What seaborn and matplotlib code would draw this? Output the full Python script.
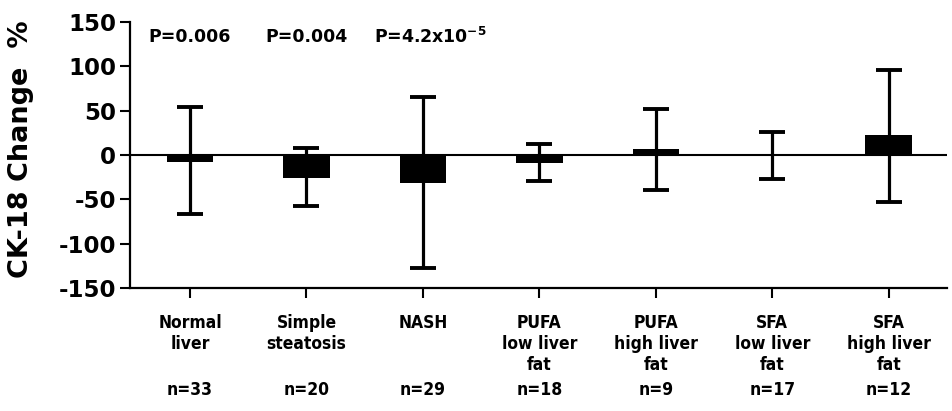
import matplotlib
matplotlib.use("Agg")
import matplotlib.pyplot as plt
import matplotlib.transforms as mtransforms
import seaborn as sns
import numpy as np
import pandas as pd

categories = ["Normal\nliver", "Simple\nsteatosis", "NASH", "PUFA\nlow liver\nfat",
              "PUFA\nhigh liver\nfat", "SFA\nlow liver\nfat", "SFA\nhigh liver\nfat"]
means = [-8, -26, -32, -9, 7, 0, 23]
err_upper = [54, 8, 65, 12, 52, 26, 96]
err_lower = [-67, -58, -127, -29, -40, -27, -53]
n_labels = ["n=33", "n=20", "n=29", "n=18", "n=9", "n=17", "n=12"]
p_labels = ["P=0.006", "P=0.004", r"P=4.2x10$^{-5}$"]
yticks = [-150, -100, -50, 0, 50, 100, 150]

sns.set_style("ticks")
plt.rcParams['font.family'] = ['DejaVu Sans']
plt.rcParams['mathtext.default'] = 'bf'
plt.rcParams['text.color'] = 'black'
plt.rcParams['xtick.color'] = 'black'
plt.rcParams['ytick.color'] = 'black'
plt.rcParams['axes.labelcolor'] = 'black'

df = pd.DataFrame({"cat": categories, "mean": means})

fig = plt.figure(figsize=(9.52, 4.11), dpi=100)
ax = fig.add_axes([130/952, 1-288/411, 817/952, 266/411])

sns.barplot(data=df, x="cat", y="mean", color="black", width=0.4,
            saturation=1, edgecolor="black", linewidth=0, ax=ax)

x = np.arange(len(categories))
m = np.array(means)
yerr = np.vstack([m - np.array(err_lower), np.array(err_upper) - m])
ax.errorbar(x, m, yerr=yerr, fmt="none", ecolor="black", elinewidth=2.3,
            capsize=9.5, capthick=2.8, zorder=3)

ax.axhline(0, color="black", lw=1.5, zorder=2)

ax.set_xlim(-0.515, 6.5)
ax.set_ylim(-150, 150)
ax.set_yticks(yticks)
ax.set_yticklabels([str(t) for t in yticks], fontsize=16.5, fontweight="bold")
ax.set_xticks(x)
ax.set_xticklabels(categories, fontsize=12.5, fontweight="bold",
                   fontstretch="condensed", linespacing=1.2, va="top")
ax.tick_params(axis="both", direction="out", length=7, width=1.5)
ax.tick_params(axis="x", pad=12)
ax.tick_params(axis="y", pad=3)

for s in ["top", "right"]:
    ax.spines[s].set_visible(False)
for s in ["left", "bottom"]:
    ax.spines[s].set_linewidth(1.6)
    ax.spines[s].set_color("black")

ax.set_xlabel("")
ax.set_ylabel("CK-18 Change  %", fontsize=19.5, fontweight="bold")
ax.yaxis.set_label_coords(-0.117, 0.52)

trans = mtransforms.blended_transform_factory(ax.transData, ax.transAxes)
for i, lab in enumerate(n_labels):
    ax.text(i, -0.385, lab, transform=trans, ha="center", va="center",
            fontsize=12.5, fontweight="bold", fontstretch="condensed")

for i, lab in enumerate(p_labels):
    ax.text(i + (0.06 if i == 2 else 0), 133, lab, ha="center", va="center",
            fontsize=12.5, fontweight="bold")

fig.savefig("out.png", dpi=100)
